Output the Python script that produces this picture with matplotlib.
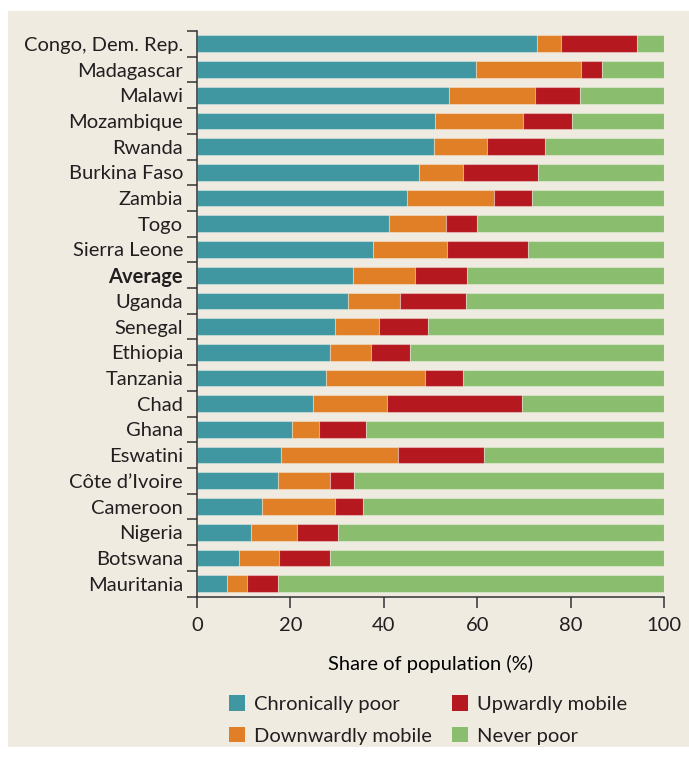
"""Poverty dynamics by country: stacked horizontal shares of population."""

import matplotlib
matplotlib.use("Agg")
import matplotlib.pyplot as plt
from matplotlib.patches import Patch, Rectangle
import numpy as np

countries = [
    "Congo, Dem. Rep.", "Madagascar", "Malawi", "Mozambique", "Rwanda",
    "Burkina Faso", "Zambia", "Togo", "Sierra Leone", "Average", "Uganda",
    "Senegal", "Ethiopia", "Tanzania", "Chad", "Ghana", "Eswatini",
    "Côte d’Ivoire", "Cameroon", "Nigeria", "Botswana", "Mauritania",
]
chronically_poor = [72.8, 59.8, 54.0, 51.0, 50.8, 47.6, 45.0, 41.1, 37.7, 33.3, 32.4,
                    29.5, 28.5, 27.6, 24.8, 20.3, 18.0, 17.3, 13.9, 11.6, 8.9, 6.4]
downwardly_mobile = [5.1, 22.5, 18.4, 18.9, 11.2, 9.3, 18.5, 12.3, 15.8, 13.3, 11.0,
                     9.5, 8.7, 21.2, 15.9, 5.8, 25.0, 11.1, 15.7, 9.9, 8.7, 4.2]
upwardly_mobile = [16.3, 4.5, 9.6, 10.4, 12.5, 16.2, 8.3, 6.5, 17.4, 11.2, 14.2,
                   10.5, 8.4, 8.2, 28.9, 10.0, 18.5, 5.2, 5.9, 8.6, 10.8, 6.7]
never_poor = [5.8, 13.2, 18.0, 19.7, 25.5, 26.9, 28.2, 40.1, 29.1, 42.2, 42.4,
              50.5, 54.4, 43.0, 30.4, 63.9, 38.5, 66.4, 64.5, 69.9, 71.6, 82.7]

series = [
    ("Chronically poor", chronically_poor, "#4097a1"),
    ("Downwardly mobile", downwardly_mobile, "#e07f25"),
    ("Upwardly mobile", upwardly_mobile, "#b5191f"),
    ("Never poor", never_poor, "#8abe6e"),
]
xticks = [0, 20, 40, 60, 80, 100]

BG = "#efebe1"
INK = "#231f20"
W, H = 689, 758

plt.rcParams["font.family"] = ["Lato", "DejaVu Sans"]
plt.rcParams["text.color"] = INK

fig = plt.figure(figsize=(W / 100, H / 100), dpi=100, facecolor="white")
# beige panel, slightly inset from the left and top/bottom edges
fig.patches.append(Rectangle((8 / W, 11 / H), 1 - 8 / W, 1 - 22 / H,
                             transform=fig.transFigure, facecolor=BG,
                             edgecolor="none", zorder=-10))

ax = fig.add_axes([197 / W, 1 - 596.5 / H, 467 / W, 565.5 / H])
ax.set_facecolor("none")

y = np.arange(len(countries))
left = np.zeros(len(countries))
for name, vals, color in series:
    vals = np.array(vals)
    ax.barh(y, vals, left=left, height=0.65, color=color,
            edgecolor=(1, 1, 1, 0.35), linewidth=0.8, label=name)
    left += vals

ax.set_xlim(0, 100)
ax.set_ylim(len(countries) - 0.5, -0.5)
ax.set_xticks(xticks)
ax.set_yticks(y)
ax.set_yticklabels(countries)
ax.set_yticks(np.arange(-0.5, len(countries)), minor=True)
ax.tick_params(axis="y", which="major", length=0, pad=10, labelsize=14.5, labelcolor=INK)
ax.tick_params(axis="y", which="minor", length=7, width=1.1, color="#333333")
ax.tick_params(axis="x", length=8, width=1.1, color="#333333", pad=7,
               labelsize=14.5, labelcolor=INK)
for lab in ax.get_yticklabels():
    if lab.get_text() == "Average":
        lab.set_fontweight("bold")

for side in ("top", "right"):
    ax.spines[side].set_visible(False)
for side in ("left", "bottom"):
    ax.spines[side].set_color("#333333")
    ax.spines[side].set_linewidth(1.1)

ax.set_xlabel("Share of population (%)", fontsize=14.5, labelpad=15)

handles = [Patch(facecolor=c, edgecolor="none", label=n) for n, _, c in series]
# column-major order: left column chronic/downward, right column upward/never
fig.legend(handles=handles, ncol=2, loc="center",
           bbox_to_anchor=(428 / W, 1 - 720 / H), frameon=False,
           fontsize=14.5, handlelength=0.8, handleheight=0.8,
           handletextpad=0.45, columnspacing=1.0, labelspacing=0.7,
           borderpad=0)

fig.savefig("out.png", dpi=100, facecolor=fig.get_facecolor())
